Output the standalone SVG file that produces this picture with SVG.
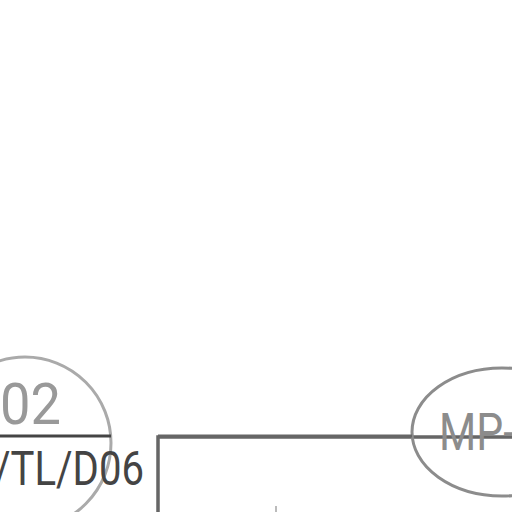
<svg xmlns="http://www.w3.org/2000/svg" width="512" height="512" viewBox="0 0 512 512">
  <style>
    .lbl { font-family: "Roboto", "Liberation Sans", sans-serif; }
    .conn { fill: none; stroke: #666; stroke-width: 3; }
  </style>
  <rect width="512" height="512" fill="#ffffff"/>
  <g id="node-ref">
    <circle cx="25" cy="443" r="86" fill="none" stroke="#aaaaaa" stroke-width="3"/>
    <line x1="0" y1="436" x2="111" y2="436" stroke="#444444" stroke-width="3"/>
    <text class="lbl" x="0" y="424" font-size="58" fill="#999999" textLength="61" lengthAdjust="spacingAndGlyphs">02</text>
    <text class="lbl" x="-6" y="485" font-size="48" fill="#444444" textLength="150" lengthAdjust="spacingAndGlyphs">/TL/D06</text>
  </g>
  <g id="node-box">
    <rect x="158" y="437" width="420" height="200" fill="none" stroke="#666666" stroke-width="3.5"/>
    <line x1="276" y1="506" x2="276" y2="512" stroke="#bbbbbb" stroke-width="2"/>
  </g>
  <g id="node-mp">
    <ellipse cx="502" cy="432" rx="90" ry="64" fill="none" stroke="#8c8c8c" stroke-width="3"/>
    <text class="lbl" x="439" y="450" font-size="51" fill="#8c8c8c" textLength="76" lengthAdjust="spacingAndGlyphs">MP-</text>
  </g>
  <g id="connectors">
    <line class="conn" x1="158" y1="436" x2="412" y2="436"/>
  </g>
</svg>
